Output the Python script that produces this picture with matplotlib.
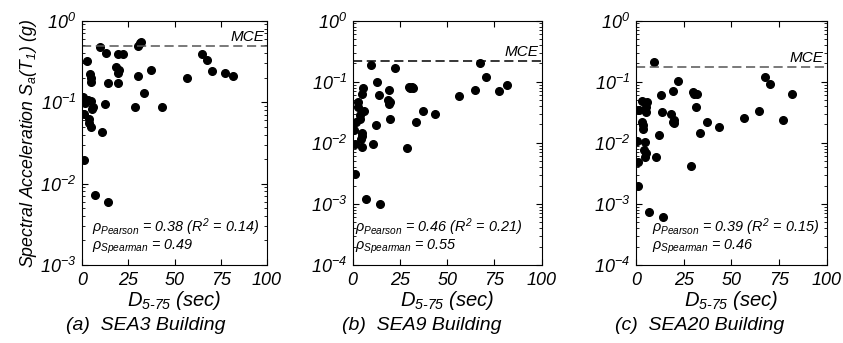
import numpy as np
import matplotlib
matplotlib.use("Agg")
import matplotlib.pyplot as plt
from matplotlib.ticker import LogLocator, LogFormatterMathtext, NullFormatter

plt.rcParams['font.family'] = ['Liberation Sans', 'DejaVu Sans']
plt.rcParams['font.style'] = 'italic'
plt.rcParams['mathtext.fontset'] = 'custom'
plt.rcParams['mathtext.rm'] = 'Liberation Sans:italic'
plt.rcParams['mathtext.it'] = 'Liberation Sans:italic'
plt.rcParams['mathtext.default'] = 'it'
plt.rcParams['axes.linewidth'] = 0.8

# significant duration D5-75 (sec), same ground motions in every panel
d575 = [0.7, 1.1, 1.8, 2.9, 3.0, 3.8, 3.6, 4.3, 4.7, 5.0, 5.1, 4.9, 5.9, 5.3,
        9.6, 12.9, 13.8, 12.2, 14.3, 22.2,
        19.2, 18.5, 19.9, 19.2, 19.7,
        30.0, 30.3, 31.4, 32.0,
        33.7, 37.3, 43.5, 28.6, 56.5, 64.6, 67.6, 70.3, 77.2, 81.6,
        6.8, 10.6, 1.3]

# Sa(T1) in g
sa_sea3 = [0.115, 0.071, 0.097, 0.32, 0.106, 0.062, 0.055, 0.22, 0.20, 0.175, 0.104, 0.05, 0.086, 0.082,
           0.47, 0.40, 0.17, 0.094, 0.006, 0.39,
           0.39, 0.27, 0.25, 0.225, 0.17,
           0.49, 0.21, 0.53, 0.55,
           0.128, 0.245, 0.086, 0.086, 0.20, 0.39, 0.33, 0.24, 0.23, 0.21,
           0.0072, 0.043, 0.0195]
sa_sea9 = [0.016, 0.0095, 0.022, 0.047, 0.039, 0.025, 0.029, 0.0114, 0.0129, 0.062, 0.0147, 0.0087, 0.033, 0.078,
           0.188, 0.10, 0.061, 0.0195, 0.001, 0.166,
           0.073, 0.05, 0.047, 0.043, 0.025,
           0.081, 0.079, 0.081, 0.080,
           0.022, 0.033, 0.030, 0.0083, 0.058, 0.073, 0.20, 0.118, 0.070, 0.087,
           0.0012, 0.0094, 0.0031]
sa_sea20 = [0.0109, 0.0049, 0.034, 0.049, 0.022, 0.0167, 0.0196, 0.0076, 0.0058, 0.039, 0.0069, 0.0104, 0.047, 0.032,
            0.21, 0.061, 0.032, 0.0135, 0.0006, 0.103,
            0.071, 0.030, 0.024, 0.022, 0.021,
            0.069, 0.063, 0.039, 0.062,
            0.0147, 0.022, 0.018, 0.0042, 0.026, 0.033, 0.121, 0.092, 0.024, 0.062,
            0.00074, 0.0059, 0.002]

mce = [0.49, 0.22, 0.175]
ylow = [1e-3, 1e-4, 1e-4]
pearson = ['0.38', '0.46', '0.39']
r2 = ['0.14', '0.21', '0.15']
spearman = ['0.49', '0.55', '0.46']
captions = ['(a)  SEA3 Building', '(b)  SEA9 Building', '(c)  SEA20 Building']
mce_colors = ['#555555', 'black', '#555555']

W, H = 843, 343
fig = plt.figure(figsize=(W / 100, H / 100), dpi=100)

lefts = [82, 352.7, 636]
widths = [185, 189, 190.7]
text_x = [0.052, 0.012, 0.082]
cap_x = [146, 422, 700]

for i, sa in enumerate([sa_sea3, sa_sea9, sa_sea20]):
    ax = fig.add_axes([lefts[i] / W, (H - 265) / H, widths[i] / W, 244.3 / H])
    ax.plot(d575, sa, 'o', color='black', markersize=5.5, linestyle='none')
    ax.set_yscale('log')
    ax.set_xlim(0, 100)
    ax.set_ylim(ylow[i], 1)
    ax.set_xticks([0, 25, 50, 75, 100])
    ax.yaxis.set_major_locator(LogLocator(base=10, numticks=10))
    ax.yaxis.set_major_formatter(LogFormatterMathtext())
    ax.yaxis.set_minor_locator(LogLocator(base=10, subs=np.arange(2, 10), numticks=20))
    ax.yaxis.set_minor_formatter(NullFormatter())
    ax.tick_params(which='both', direction='in', top=True, right=True, labelsize=13)
    ax.tick_params(which='major', length=4, width=0.8)
    ax.tick_params(which='minor', length=2, width=0.6)
    ax.tick_params(axis='x', pad=5)
    ax.tick_params(axis='y', pad=4)

    ax.axhline(mce[i], color=mce_colors[i], linestyle='--', linewidth=1.1, dashes=(6, 3))
    ax.text(0.985, mce[i] * 1.06, 'MCE', transform=ax.get_yaxis_transform(),
            ha='right', va='bottom', fontsize=11)

    ax.text(text_x[i], 0.134, r'$\rho_{Pearson}$ = %s ($R^2$ = %s)' % (pearson[i], r2[i]),
            transform=ax.transAxes, ha='left', va='baseline', fontsize=10.4)
    ax.text(text_x[i], 0.064, r'$\rho_{Spearman}$ = %s' % spearman[i],
            transform=ax.transAxes, ha='left', va='baseline', fontsize=10.4)

    ax.set_xlabel(r'$D_{5\text{-}75}$ (sec)', fontsize=14.5, labelpad=0)
    if i == 0:
        ax.set_ylabel(r'Spectral Acceleration $S_a(T_1)$ (g)', fontsize=12.8, labelpad=1)

    fig.text(cap_x[i] / W, (H - 325) / H, captions[i], ha='center', va='center', fontsize=14)

fig.savefig('out.png', dpi=100)
